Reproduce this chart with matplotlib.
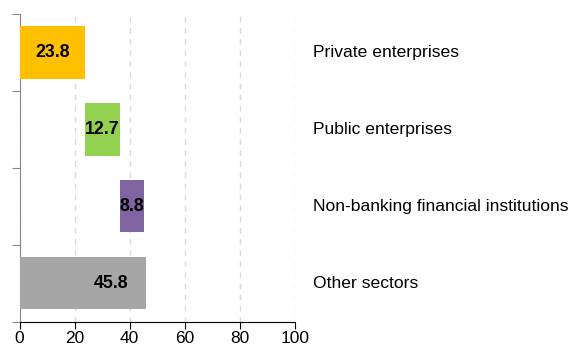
import numpy as np
import matplotlib.pyplot as plt
import matplotlib.transforms as mtransforms

plt.rcParams['font.family'] = ['Liberation Sans', 'DejaVu Sans']

sectors = ['Private enterprises', 'Public enterprises',
           'Non-banking financial institutions', 'Other sectors']
values = [23.8, 12.7, 8.8, 45.8]
colors = ['#FFC000', '#92D050', '#8064A2', '#A6A6A6']

# waterfall: first three stack up, last one is the total from zero
starts = [0, values[0], values[0] + values[1], 0]

fig = plt.figure(figsize=(5.77, 3.49), dpi=100)
ax = fig.add_axes([0.0338, 0.0782, 0.4775, 0.8817])

ypos = np.arange(len(sectors)) + 0.5
ax.barh(ypos, values, left=starts, height=0.68, color=colors, zorder=3)

for i, (s, v) in enumerate(zip(starts, values)):
    if i == len(values) - 1:
        x = s + v * 0.725
    else:
        x = s + v / 2
    ax.text(x, ypos[i], f'{v:.1f}', ha='center', va='center',
            fontsize=12.8, fontweight='bold', color='black', zorder=4)

trans = mtransforms.blended_transform_factory(ax.transAxes, ax.transData)
for y, name in zip(ypos, sectors):
    ax.text(1.065, y, name, transform=trans, ha='left', va='center',
            fontsize=12.6, color='black')

ax.set_xlim(0, 100)
ax.set_ylim(4, 0)
ax.set_xticks([0, 20, 40, 60, 80, 100])
ax.set_yticks([0, 1, 2, 3, 4])
ax.set_yticklabels([])
ax.tick_params(axis='x', labelsize=12.5, length=5, color='black', pad=1.5)
ax.tick_params(axis='y', length=6, color='#888888')

ax.xaxis.grid(True, linestyle=(0, (4, 4)), color='#D9D9D9', linewidth=1, zorder=0)
for sp in ['top', 'right']:
    ax.spines[sp].set_visible(False)
ax.spines['left'].set_color('#888888')
ax.spines['bottom'].set_color('black')

fig.savefig('out.png', dpi=100)
